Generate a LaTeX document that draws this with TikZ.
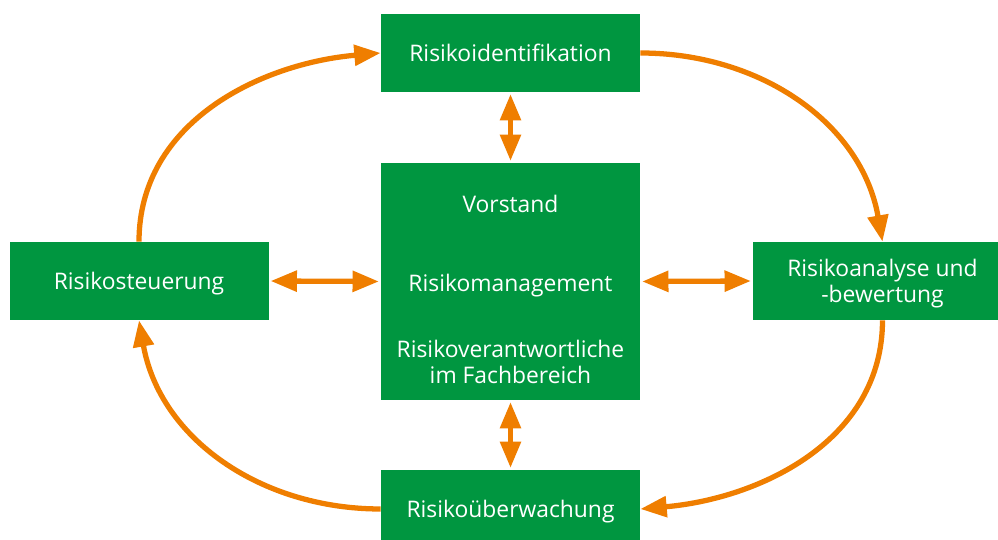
\documentclass[tikz,border=0pt]{standalone}
\usepackage{fontspec}
\setmainfont{Open Sans}
\usepackage{tikz}
\usetikzlibrary{arrows.meta}
\usetikzlibrary{calc}
\definecolor{boxgreen}{RGB}{0,150,64}
\definecolor{loop}{RGB}{239,126,0}

\begin{document}
\begin{tikzpicture}[
        box/.style={fill=boxgreen, text=white, minimum width=5.18cm, minimum height=1.56cm, inner sep=0pt, align=center, text depth=0pt, font=\fontsize{13}{15}\selectfont},
        txt/.style={text=white, align=center, font=\fontsize{13}{15}\selectfont},
        link/.style={draw=loop, line width=3pt, -{Triangle[length=15pt,width=11.5pt]}},
        both/.style={link, {Triangle[length=15pt,width=11.5pt]}-{Triangle[length=15pt,width=11.5pt]}, shorten <=1pt, shorten >=1pt}
    ]
        \path[use as bounding box, clip] (0,0) rectangle (19.96,10.8);

        \node[box] (ident) at (10.21,9.74) {Risikoidentifikation};
        \node[box, minimum height=4.74cm] (mgmt) at (10.21,5.17) {};
        \node[box] (steuer) at (2.78,5.18) {Risikosteuerung};
        \node[box] (analyse) at (17.65,5.18) {Risikoanalyse und\\-bewertung};
        \node[box] (ueber) at (10.21,0.62) {Risikoüberwachung};

        \node[txt] (vorstand) at (10.21,6.72) {Vorstand};
        \node[txt, text depth=0pt] (rm) at (10.21,5.14) {Risikomanagement};
        \node[txt] (fach) at (10.21,3.56) {Risikoverantwortliche\\im Fachbereich};

        \draw[both] (ident.south) -- (mgmt.north);
        \draw[both] (mgmt.south) -- (ueber.north);
        \draw[both] (steuer.east) -- (mgmt.west);
        \draw[both] (mgmt.east) -- (analyse.west);

        \draw[link] (ident.east) to[out=0, in=100] (analyse.north);
        \draw[link] (analyse.south) to[out=-90, in=5] (ueber.east);
        \draw[link] (ueber.west) to[out=180, in=-80] (steuer.south);
        \draw[link] (steuer.north) to[out=90, in=185] (ident.west);
    \end{tikzpicture}
\end{document}
